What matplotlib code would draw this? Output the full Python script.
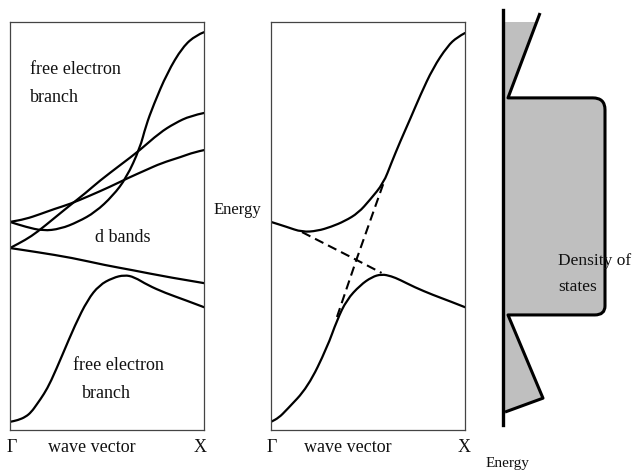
import matplotlib.pyplot as plt
from matplotlib.path import Path
from matplotlib.patches import PathPatch

# Band structure schematic: k runs from Gamma (0) to X (1), energy in arbitrary units (0-100)

# left panel: full band structure
steep_k = [0, 0.08, 0.17, 0.26, 0.35, 0.44, 0.53, 0.60, 0.67, 0.70, 0.74, 0.81, 0.89, 0.96, 1.0]
steep_E = [51.0, 49.8, 48.8, 49.3, 51.0, 53.4, 57.4, 61.8, 69.1, 74.5, 79.7, 87.5, 93.9, 96.8, 97.5]

rising_k = [0, 0.08, 0.14, 0.23, 0.31, 0.39, 0.46, 0.57, 0.67, 0.77, 0.85, 0.93, 1.0]
rising_E = [44.6, 46.6, 48.5, 52.0, 55.1, 58.1, 61.0, 65.0, 68.6, 72.8, 75.2, 77.0, 77.7]

gentle_k = [0, 0.08, 0.155, 0.23, 0.31, 0.41, 0.515, 0.61, 0.70, 0.78, 0.88, 0.95, 1.0]
gentle_E = [51.0, 51.7, 52.9, 54.2, 55.4, 57.4, 59.6, 61.8, 63.7, 65.4, 66.9, 68.1, 68.6]

flat_k = [0, 0.14, 0.32, 0.49, 0.63, 0.81, 1.0]
flat_E = [44.6, 43.6, 42.2, 40.4, 39.2, 37.5, 36.0]

low_k = [0, 0.04, 0.08, 0.11, 0.14, 0.175, 0.21, 0.27, 0.335, 0.40, 0.46, 0.53, 0.59, 0.64, 0.71, 0.80, 0.90, 1.0]
low_E = [2.0, 2.4, 3.2, 4.4, 6.4, 8.8, 11.8, 18.4, 25.7, 31.9, 35.5, 37.3, 38.0, 37.5, 35.5, 33.6, 31.9, 30.1]

# middle panel: one d band hybridising with one free electron band
up_k = [0, 0.08, 0.16, 0.24, 0.31, 0.38, 0.45, 0.51, 0.58, 0.62, 0.665, 0.72, 0.77, 0.835, 0.91, 0.96, 1.0]
up_E = [51.0, 49.8, 48.5, 48.8, 49.8, 51.2, 53.2, 56.4, 60.5, 65.4, 70.6, 76.5, 82.1, 88.7, 94.1, 96.3, 97.3]

dn_k = [0, 0.04, 0.08, 0.19, 0.29, 0.34, 0.39, 0.46, 0.52, 0.57, 0.62, 0.665, 0.74, 0.835, 0.92, 1.0]
dn_E = [2.0, 3.0, 4.9, 10.5, 20.3, 26.9, 31.9, 35.5, 37.5, 38.2, 37.7, 36.8, 35.0, 33.1, 31.6, 30.1]

d_bare_k = [0.16, 0.44, 0.57]
d_bare_E = [48.5, 41.7, 38.5]
fe_bare_k = [0.34, 0.44, 0.58]
fe_bare_E = [27.7, 41.7, 60.5]

# right panel: density of states outline (density 0-1, same energy scale),
# the two rounded corners of the d-band plateau use a control point each
dos_D = [0.363, 0.049, 0.88, 1.0, 1.0, 1.0, 1.0, 0.90, 0.049, 0.392, 0.020]
dos_E = [102.2, 81.4, 81.4, 81.4, 78.5, 30.4, 28.2, 28.2, 28.2, 7.8, 4.4]
dos_codes = [Path.MOVETO, Path.LINETO, Path.LINETO, Path.CURVE3, Path.CURVE3, Path.LINETO,
             Path.CURVE3, Path.CURVE3, Path.LINETO, Path.LINETO, Path.LINETO]
fill_top_D = 0.329   # where the grey shading starts at the top
fill_top_E = 100
axis_E = [1.2, 102.9]

W, H = 632, 471
fig = plt.figure(figsize=(W / 100, H / 100), dpi=100)
plt.rcParams['font.family'] = ['Liberation Serif', 'DejaVu Serif']

lw = 1.6
txt = '#111111'


def band_axes(left_px):
    ax = fig.add_axes([left_px / W, (H - 430) / H, 194 / W, 408 / H])
    ax.set_xlim(0, 1)
    ax.set_ylim(0, 100)
    ax.set_xticks([])
    ax.set_yticks([])
    for sp in ax.spines.values():
        sp.set_color('#444444')
        sp.set_linewidth(0.9)
    return ax


def smooth(ax, k, E, **kw):
    # quadratic spline through the read points (points act as control points)
    pts = list(zip(k, E))
    verts = [pts[0], ((pts[0][0] + pts[1][0]) / 2, (pts[0][1] + pts[1][1]) / 2)]
    codes = [Path.MOVETO, Path.LINETO]
    for i in range(1, len(pts) - 1):
        if i == len(pts) - 2:
            end = pts[-1]
        else:
            end = ((pts[i][0] + pts[i + 1][0]) / 2, (pts[i][1] + pts[i + 1][1]) / 2)
        verts += [pts[i], end]
        codes += [Path.CURVE3, Path.CURVE3]
    ax.add_patch(PathPatch(Path(verts, codes), fill=False, color='black', lw=lw,
                           joinstyle='round', capstyle='round', **kw))


ax1 = band_axes(10)
for k, E in [(steep_k, steep_E), (rising_k, rising_E), (gentle_k, gentle_E),
             (flat_k, flat_E), (low_k, low_E)]:
    smooth(ax1, k, E)

ax2 = band_axes(271)
smooth(ax2, up_k, up_E)
smooth(ax2, dn_k, dn_E)
ax2.plot(d_bare_k, d_bare_E, color='black', lw=1.5, dashes=(4.5, 2.5))
ax2.plot(fe_bare_k, fe_bare_E, color='black', lw=1.5, dashes=(4.5, 2.5))

# density of states panel
ax3 = fig.add_axes([495 / W, 0, 137 / W, 1])
ax3.set_xlim(-8 / 102, 129 / 102)
ax3.set_ylim(-41 / 4.08, 430 / 4.08)
ax3.axis('off')

fill_verts = [(0, fill_top_E), (fill_top_D, fill_top_E)] + list(zip(dos_D[1:], dos_E[1:])) + [(0, dos_E[-1]), (0, fill_top_E)]
fill_codes = [Path.MOVETO, Path.LINETO] + dos_codes[1:] + [Path.LINETO, Path.CLOSEPOLY]
ax3.add_patch(PathPatch(Path(fill_verts, fill_codes), facecolor='#bfbfbf', edgecolor='none'))
ax3.add_patch(PathPatch(Path(list(zip(dos_D, dos_E)), dos_codes), fill=False,
                        color='black', lw=2.2, joinstyle='round'))
ax3.plot([0, 0], axis_E, color='black', lw=2.4)


def label(x, y, s, size=13, ha='left'):
    fig.text(x / W, 1 - y / H, s, fontsize=size, ha=ha, va='center', color=txt)


label(30, 69, 'free electron')
label(30, 98, 'branch')
label(123, 238, 'd bands', ha='center')
label(73, 366, 'free electron')
label(82, 394, 'branch')
label(12, 447, '\u0393', ha='center')
label(92, 447, 'wave vector', ha='center')
label(200, 447, 'X', ha='center')

label(237, 210, 'Energy', size=12, ha='center')
label(272, 447, '\u0393', ha='center')
label(348, 447, 'wave vector', ha='center')
label(464, 447, 'X', ha='center')

label(558, 261, 'Density of', size=12.5)
label(558, 287, 'states', size=12.5)
label(507, 463, 'Energy', size=11, ha='center')

fig.savefig('out.png', dpi=100)
